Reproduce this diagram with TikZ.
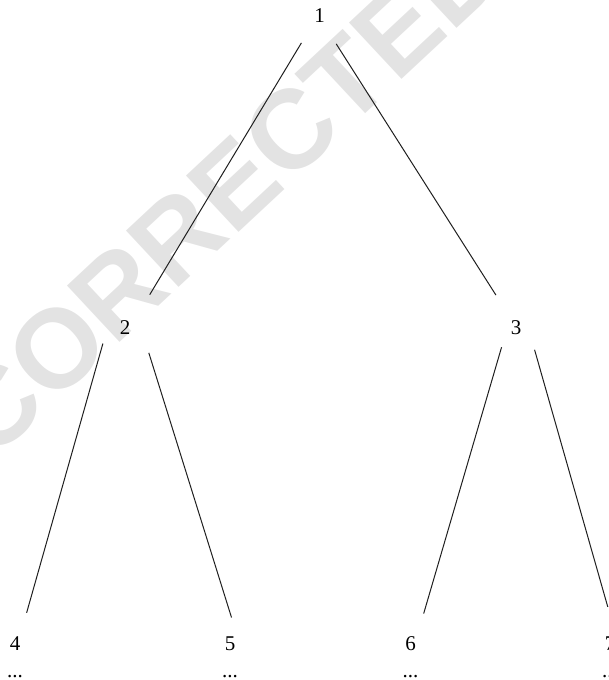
\documentclass[tikz,border=0pt]{standalone}
\usepackage{fontspec}
\setmainfont{Liberation Serif}
\newfontfamily\markfont{Liberation Sans}
\usetikzlibrary{positioning}
\definecolor{stamp}{gray}{0.89}
\definecolor{ink}{gray}{0.12}

\begin{document}
\begin{tikzpicture}[
    x=0.5pt, y=-0.5pt,
    vert/.style={circle, minimum size=32pt, inner sep=0pt, anchor=base,
                 font=\fontsize{10.5}{12}\selectfont},
    more/.style={anchor=base, inner sep=0pt, font=\fontsize{10.5}{12}\selectfont},
    edge/.style={draw=ink, line width=0.5pt},
    stampmark/.style={text=stamp, rotate=43, inner sep=0pt,
                      font=\markfont\bfseries\fontsize{56}{56}\selectfont},
]
    % page frame, cut to the size of the scan
    \useasboundingbox (0,0) rectangle (609,680);
    \clip (0,0) rectangle (609,680);

    % watermark behind the tree
    \node[stampmark] (stamp) at (225,192) {CORRECTED};

    % Level 0
    \node[vert] (n1) at (319.5,23) {1};

    % Level 1
    \node[vert] (n2) at (125,334) {2};
    \node[vert] (n3) at (516,334) {3};

    % Level 2
    \node[vert] (n4) at (15,650) {4};
    \node[vert] (n5) at (230,650) {5};
    \node[vert] (n6) at (410.5,650) {6};
    \node[vert] (n7) at (610,650) {7};

    % subtrees go on
    \node[more] (d4) at (15,677) {...};
    \node[more] (d5) at (230,677) {...};
    \node[more] (d6) at (410.5,677) {...};
    \node[more] (d7) at (610,677) {...};

    % Edges
    \draw[edge, shorten >=4.2pt] (n1.236) -- (n2.51);
    \draw[edge, shorten >=2.7pt] (n1.301) -- (n3.122);
    \draw[edge, shorten <=-2.9pt] (n2.223) -- (n4.69);
    \draw[edge, shorten <=1.5pt, shorten >=-3.5pt] (n2.315) -- (n5.91);
    \draw[edge, shorten <=-4pt] (n3.239) -- (n6.66);
    \draw[edge, shorten <=-1.7pt, shorten >=2pt] (n3.307) -- (n7.92);
\end{tikzpicture}
\end{document}
